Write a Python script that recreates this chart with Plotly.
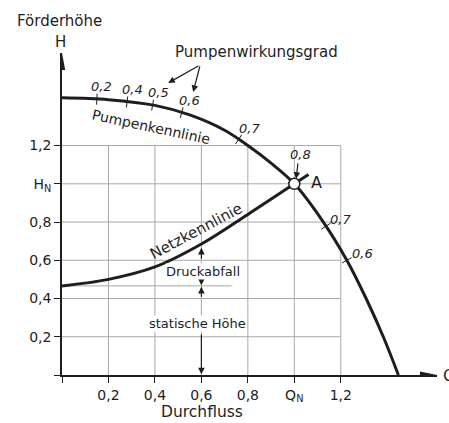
import numpy as np
import plotly.graph_objects as go

# ---------------- data ----------------
pump_Q = [0.0, 0.2, 0.4, 0.55, 0.7, 0.8, 0.9, 1.0, 1.125, 1.226, 1.309, 1.383, 1.448]
pump_H = [1.45, 1.44, 1.41, 1.36, 1.28, 1.2, 1.108, 1.0, 0.8, 0.6, 0.4, 0.2, 0.0]

netz_Q = [0.0, 0.2, 0.4, 0.6, 0.8, 1.0]
netz_H = [0.466, 0.5, 0.565, 0.685, 0.84, 1.0]

eta_Q = [0.15, 0.28, 0.39, 0.515, 0.76, 1.136, 1.226]
eta_labels = ["0,2", "0,4", "0,5", "0,6", "0,7", "0,7", "0,6"]
eta_best_label = "0,8"

A_Q, A_H = 1.0, 1.0

x_tickvals = [0.2, 0.4, 0.6, 0.8, 1.0, 1.2]
x_ticktext = ["0,2", "0,4", "0,6", "0,8", "Q<sub>N</sub>", "1,2"]
y_tickvals = [0.2, 0.4, 0.6, 0.8, 1.0, 1.2]
y_ticktext = ["0,2", "0,4", "0,6", "0,8", "H<sub>N</sub>", "1,2"]

# ---------------- geometry (pixel mapping) ----------------
W, Hh = 449, 423
X0, SX = 61.7, 232.5     # pixel of Q=0, pixels per unit
Y0, SY = 375.5, 191.5    # pixel of H=0, pixels per unit
ML, MR, MT, MB = X0, W - 437, 53, Hh - Y0
PW, PH = W - ML - MR, Y0 - MT
xmax = PW / SX
ymax = PH / SY

def qx(px):
    return (px - X0) / SX

def hy(py):
    return (Y0 - py) / SY

def paper_x(px):
    return (px - ML) / PW

def paper_y(py):
    return (Y0 - py) / PH

INK = "#1e1e1e"
GRID = "#a8a8a8"
FONT = "DejaVu Sans"

fig = go.Figure()

# grid (bounded box up to 1.2)
shapes = []
gmax = max(x_tickvals)
for v in x_tickvals:
    shapes.append(dict(type="line", xref="x", yref="y", x0=v, x1=v, y0=0, y1=max(y_tickvals),
                       line=dict(color=GRID, width=1), layer="below"))
for v in y_tickvals:
    shapes.append(dict(type="line", xref="x", yref="y", x0=0, x1=gmax, y0=v, y1=v,
                       line=dict(color=GRID, width=1), layer="below"))
# static head line
shapes.append(dict(type="line", xref="x", yref="y", x0=0, x1=0.73, y0=netz_H[0], y1=netz_H[0],
                   line=dict(color=GRID, width=1), layer="below"))

# axis arrowheads
shapes.append(dict(type="path", xref="x", yref="y", xsizemode="pixel", ysizemode="pixel",
                   xanchor=xmax, yanchor=0, path="M0,0 L-17,3.5 L-17,-3.5 Z",
                   fillcolor=INK, line=dict(width=0)))
shapes.append(dict(type="path", xref="x", yref="y", xsizemode="pixel", ysizemode="pixel",
                   xanchor=0, yanchor=ymax, path="M0,0 L-3.2,-17 L3.2,-17 Z",
                   fillcolor=INK, line=dict(width=0)))

# curves
fig.add_trace(go.Scatter(x=pump_Q, y=pump_H, mode="lines",
                         line=dict(color=INK, width=3, shape="spline", smoothing=1.0),
                         hoverinfo="skip", showlegend=False))
fig.add_trace(go.Scatter(x=netz_Q, y=netz_H, mode="lines",
                         line=dict(color=INK, width=3, shape="spline", smoothing=1.0),
                         hoverinfo="skip", showlegend=False))

# efficiency ticks on pump curve (perpendicular, ~10 px)
pq = np.array(pump_Q); ph = np.array(pump_H)
def slope_px(q):
    d = 0.03
    dh = (np.interp(q + d, pq, ph) - np.interp(q - d, pq, ph)) / (2 * d)
    return dh * SY / SX

annotations = []
for q, lab in zip(eta_Q, eta_labels):
    h = float(np.interp(q, pq, ph))
    s = slope_px(q)
    nx, ny = -s, 1.0
    nn = np.hypot(nx, ny); nx /= nn; ny /= nn
    L = 5.5
    fig.add_trace(go.Scatter(x=[q - nx * L / SX, q + nx * L / SX],
                             y=[h - ny * L / SY, h + ny * L / SY],
                             mode="lines", line=dict(color=INK, width=1),
                             hoverinfo="skip", showlegend=False))
    off = 13
    annotations.append(dict(x=q, y=h, xref="x", yref="y", text="<i>" + lab + "</i>",
                            showarrow=False, xshift=nx * off + 4, yshift=ny * off,
                            font=dict(size=13, color=INK, family=FONT)))

# short thick mark at A along the system-curve direction
nq = np.array(netz_Q); nh = np.array(netz_H)
sN = (nh[-1] - nh[-2]) / (nq[-1] - nq[-2]) * SY / SX
ux, uy = 1.0, sN
un = np.hypot(ux, uy); ux /= un; uy /= un
fig.add_trace(go.Scatter(x=[A_Q, A_Q + ux * 17 / SX], y=[A_H, A_H + uy * 17 / SY],
                         mode="lines", line=dict(color=INK, width=3),
                         hoverinfo="skip", showlegend=False))
# operating point A
fig.add_trace(go.Scatter(x=[A_Q], y=[A_H], mode="markers",
                         marker=dict(size=11, color="white", line=dict(color=INK, width=1.5)),
                         hoverinfo="skip", showlegend=False))

def arrow(xt, yt, xa, ya, w=1.2):
    annotations.append(dict(x=xt, y=yt, ax=xa, ay=ya, xref="x", yref="y", axref="x", ayref="y",
                            text="", showarrow=True, arrowhead=2, arrowsize=1.1, arrowwidth=w,
                            arrowcolor=INK, standoff=0, startstandoff=0))

def text(px, py, s, size=14, angle=0, xanchor="center", bg=None):
    d = dict(x=paper_x(px), y=paper_y(py), xref="paper", yref="paper", text=s, showarrow=False,
             textangle=angle, xanchor=xanchor, yanchor="middle",
             font=dict(size=size, color=INK, family=FONT))
    if bg:
        d["bgcolor"] = bg
        d["borderpad"] = 0
    annotations.append(d)

# dimension arrows at Q = 0.6
hq = 0.6
h_net = float(np.interp(hq, nq, nh))
h_stat = netz_H[0]
arrow(hq, h_net - 0.02, hq, h_net - 0.085)
arrow(hq, h_stat + 0.003, hq, h_stat + 0.05)
arrow(hq, h_stat - 0.005, hq, h_stat - 0.065)
arrow(hq, 0.004, hq, 0.22)

# efficiency pointer arrows
arrow(qx(168), hy(83), qx(200), hy(65))
arrow(qx(193), hy(92), qx(200), hy(65))
arrow(qx(296), hy(179), qx(298), hy(162))

# texts
text(59, 21, "Förderhöhe", 15)
text(60, 42, "H", 15)
text(256, 52, "Pumpenwirkungsgrad", 15)
text(151, 127, "Pumpenkennlinie", 14, angle=12)
text(196, 231, "Netzkennlinie", 15, angle=-28)
text(203, 271.5, "Druckabfall", 13, bg="white")
text(197, 324, "statische Höhe", 13, bg="white")
text(202, 413, "Durchfluss", 15.5)
text(316, 183, "A", 16)
text(300, 155, "<i>" + eta_best_label + "</i>", 13)
text(441, 376, "Q", 16, xanchor="left")

fig.update_layout(
    width=W, height=Hh,
    margin=dict(l=ML, r=MR, t=MT, b=MB, pad=0),
    paper_bgcolor="white", plot_bgcolor="white",
    shapes=shapes, annotations=annotations,
    font=dict(family=FONT, size=14, color=INK),
    xaxis=dict(range=[0, xmax], tickvals=[0] + x_tickvals, ticktext=[""] + x_ticktext,
               showgrid=False, zeroline=False, showline=True, linecolor=INK, linewidth=1.5,
               ticks="outside", ticklen=6, tickcolor=INK, tickwidth=1,
               tickfont=dict(size=14, color=INK, family=FONT), fixedrange=True),
    yaxis=dict(range=[0, ymax], tickvals=[0] + y_tickvals, ticktext=[""] + y_ticktext,
               showgrid=False, zeroline=False, showline=True, linecolor=INK, linewidth=1.5,
               ticks="outside", ticklen=6, tickcolor=INK, tickwidth=1,
               tickfont=dict(size=14, color=INK, family=FONT), fixedrange=True),
)

fig.write_html("out.html", config={"displayModeBar": False},
               post_script="document.body.style.margin='0';document.body.style.overflow='hidden';")
